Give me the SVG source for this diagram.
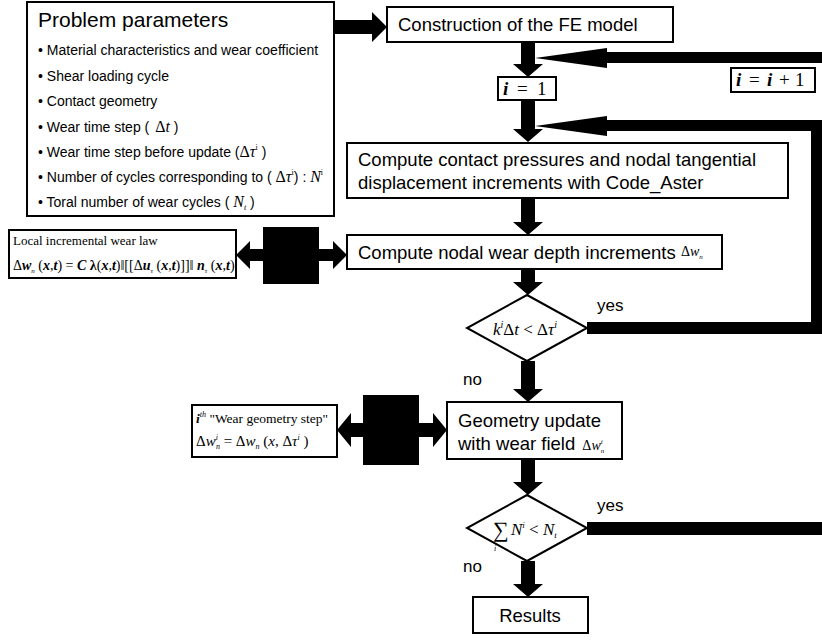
<svg xmlns="http://www.w3.org/2000/svg" width="822" height="640" viewBox="0 0 822 640">
<style>
.box{fill:#fff;stroke:#000;stroke-width:2}
.s{font-family:"Liberation Sans",Arial,sans-serif;fill:#000}
.m{font-family:"Liberation Serif","Times New Roman",serif;fill:#000}
.i{font-style:italic}
.b{font-weight:bold}
.arr{fill:#000;stroke:none}
</style>
<rect width="822" height="640" fill="#fff"/>

<g id="connectors">
  <polygon class="arr" points="335,20 372,20 372,12 387,27 372,42 372,34 335,34"/>
  <polygon class="arr" points="521,42 535,42 535,64 543,64 528,77 513,64 521,64"/>
  <polygon class="arr" points="521,100 535,100 535,129 543,129 528,142 513,129 521,129"/>
  <polygon class="arr" points="521,198 535,198 535,222 543,222 528,235 513,222 521,222"/>
  <polygon class="arr" points="521,269 535,269 535,282 543,282 528,295 513,282 521,282"/>
  <polygon class="arr" points="521,361 535,361 535,389 543,389 528,402 513,389 521,389"/>
  <polygon class="arr" points="521,459 535,459 535,482 543,482 528,495 513,482 521,482"/>
  <polygon class="arr" points="521,561 535,561 535,584 543,584 528,597 513,584 521,584"/>
  <polygon class="arr" points="822,52 607,52 607,48 535,58 607,68 607,63 822,63"/>
  <path class="arr" d="M535,126 L607,116 L607,120 L822,120 L822,334 L587,334 L587,322 L811,322 L811,131 L607,131 L607,136 Z"/>
  <rect class="arr" x="587" y="522" width="235" height="13"/>
  <path class="arr" d="M236,255 L250,241 L250,249 L263,249 L263,227 L319,227 L319,249 L333,249 L333,241 L347,255 L333,269 L333,261 L319,261 L319,284 L263,284 L263,261 L250,261 L250,269 Z"/>
  <path class="arr" d="M337,430 L351,413 L351,423 L363,423 L363,395 L419,395 L419,423 L433,423 L433,413 L447,430 L433,447 L433,437 L419,437 L419,465 L363,465 L363,437 L351,437 L351,447 Z"/>
  <text class="s" x="597" y="311" font-size="17">yes</text>
  <text class="s" x="463" y="385" font-size="17">no</text>
  <text class="s" x="597" y="511" font-size="17">yes</text>
  <text class="s" x="463" y="572" font-size="17">no</text>
</g>

<g id="params">
  <rect class="box" x="27" y="2" width="307" height="214"/>
  <text class="s" x="38" y="27" font-size="21">Problem parameters</text>
  <g class="s" font-size="14">
    <text x="38" y="55">• Material characteristics and wear coefficient</text>
    <text x="38" y="81">• Shear loading cycle</text>
    <text x="38" y="106">• Contact geometry</text>
    <text x="38" y="132">• Wear time step ( <tspan class="m" font-size="16" dx="2">Δ<tspan class="i">t</tspan></tspan>  )</text>
    <text x="38" y="157">• Wear time step before update (<tspan class="m" font-size="16">Δ<tspan class="i">τ</tspan><tspan font-size="8" dy="-7">i</tspan></tspan><tspan dy="7"> )</tspan></text>
    <text x="38" y="182">• Number of cycles corresponding to ( <tspan class="m" font-size="16">Δ<tspan class="i">τ</tspan><tspan font-size="8" dy="-7">i</tspan></tspan><tspan dy="7">) : </tspan><tspan class="m i" font-size="16">N</tspan><tspan class="m" font-size="8" dy="-7">i</tspan></text>
    <text x="38" y="207">• Toral number of wear cycles ( <tspan class="m i" font-size="16">N</tspan><tspan class="m i" font-size="8" dy="3">t</tspan><tspan dy="-3"> )</tspan></text>
  </g>
</g>

<g id="construction">
  <rect class="box" x="387" y="7" width="286" height="35"/>
  <text class="s" x="398" y="31" font-size="18.5">Construction of the FE model</text>
</g>

<g id="init">
  <rect class="box" x="498" y="77" width="58" height="23"/>
  <text class="m" y="95" font-size="19"><tspan class="i b" x="503">i</tspan><tspan x="517">=</tspan><tspan x="537">1</tspan></text>
</g>

<g id="increment">
  <rect class="box" x="731" y="68" width="84" height="24"/>
  <text class="m" y="86" font-size="19"><tspan class="i b" x="736">i</tspan><tspan x="749">=</tspan><tspan class="i b" x="767">i</tspan><tspan x="779">+</tspan><tspan x="795">1</tspan></text>
</g>

<g id="compute-contact">
  <rect class="box" x="347" y="143" width="441" height="55"/>
  <text class="s" x="358" y="166" font-size="18.5">Compute contact pressures and nodal tangential</text>
  <text class="s" x="358" y="189" font-size="18.5">displacement increments with Code_Aster</text>
</g>

<g id="compute-wear">
  <rect class="box" x="347" y="235" width="375" height="34"/>
  <text class="s" x="358" y="259" font-size="18.5">Compute nodal wear depth increments</text>
  <text class="m" x="681" y="256" font-size="14">Δ<tspan class="i">w</tspan><tspan font-size="7" dy="3" class="i">n</tspan></text>
</g>

<g id="wear-law">
  <rect class="box" x="9" y="230" width="227" height="48"/>
  <text class="m" x="13" y="245" font-size="13">Local incremental wear law</text>
  <text class="m" x="13" y="270" font-size="14">Δ<tspan class="i b">w</tspan><tspan class="i" font-size="7" dy="3">n</tspan><tspan dy="-3"> (</tspan><tspan class="i b">x</tspan>,<tspan class="i b">t</tspan>) = <tspan class="i b">C</tspan> <tspan class="b">λ</tspan>(<tspan class="i b">x</tspan>,<tspan class="i b">t</tspan>)‖[[Δ<tspan class="i b">u</tspan><tspan class="i" font-size="7" dy="3">τ</tspan><tspan dy="-3"> (</tspan><tspan class="i b">x</tspan>,<tspan class="i b">t</tspan>)]]‖ <tspan class="i b">n</tspan><tspan class="i" font-size="7" dy="3">τ</tspan><tspan dy="-3"> (</tspan><tspan class="i b">x</tspan>,<tspan class="i b">t</tspan>)</text>
</g>

<g id="decision-1">
  <polygon class="box" points="527,295 587,328 527,361 467,328"/>
  <text class="m i" x="493" y="335" font-size="17">k<tspan font-size="10" dy="-7">i</tspan><tspan dy="7" font-style="normal">Δ</tspan>t<tspan font-style="normal"> &lt; Δ</tspan>τ<tspan font-size="10" dy="-7">i</tspan></text>
</g>

<g id="geometry-update">
  <rect class="box" x="447" y="402" width="175" height="57"/>
  <text class="s" x="458" y="427" font-size="18.5">Geometry update</text>
  <text class="s" x="458" y="450" font-size="18.5">with wear field <tspan class="m" font-size="14" dx="2">Δ<tspan class="i">w</tspan><tspan class="i" font-size="7" dy="-6">i</tspan><tspan class="i" font-size="7" dx="-2" dy="9">n</tspan></tspan></text>
</g>

<g id="geometry-step">
  <rect class="box" x="192" y="405" width="145" height="52"/>
  <text class="m" x="196" y="423" font-size="13.5"><tspan class="i b">i</tspan><tspan class="i" font-size="8" dy="-6">th</tspan><tspan dy="6">  "Wear geometry step"</tspan></text>
  <text class="m" x="196" y="446" font-size="15">Δ<tspan class="i">w</tspan><tspan class="i" font-size="8" dy="-6">i</tspan><tspan class="i" font-size="8" dx="-2" dy="9">n</tspan><tspan dy="-3"> = Δ</tspan><tspan class="i">w</tspan><tspan class="i" font-size="8" dy="3">n</tspan><tspan dy="-3"> (</tspan><tspan class="i">x</tspan>, Δ<tspan class="i">τ</tspan><tspan class="i" font-size="8" dy="-6">i</tspan><tspan dy="6"> )</tspan></text>
</g>

<g id="decision-2">
  <polygon class="box" points="527,495 587,528 527,561 467,528"/>
  <text class="m" x="493" y="537" font-size="22">∑</text>
  <text class="m" x="494" y="551" font-size="8" font-style="italic">i</text>
  <text class="m i" x="511" y="535" font-size="17">N<tspan font-size="9" dy="-7">i</tspan><tspan dy="7" font-style="normal"> &lt; </tspan>N<tspan font-size="9" dy="3">t</tspan></text>
</g>

<g id="results">
  <rect class="box" x="473" y="597" width="115" height="36"/>
  <text class="s" x="530" y="622" font-size="18.5" text-anchor="middle">Results</text>
</g>
</svg>
